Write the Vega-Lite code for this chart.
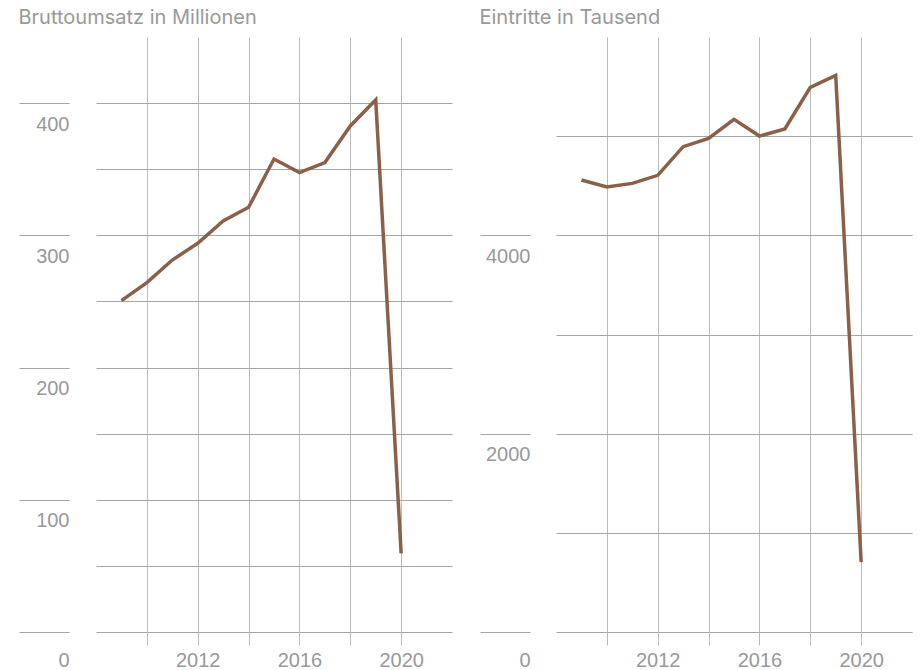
{
  "$schema": "https://vega.github.io/schema/vega-lite/v6.json",
  "background": "white",
  "padding": {"left": 18, "top": 8, "right": 5, "bottom": 5},
  "spacing": 27,
  "config": {
    "view": {"stroke": null},
    "font": "Liberation Sans",
    "title": {"anchor": "start", "frame": "bounds", "fontSize": 20, "fontWeight": "normal", "color": "#999999", "font": "Inter", "baseline": "alphabetic", "offset": 9},
    "axis": {"labelFont": "Liberation Sans", "labelFontSize": 20, "labelColor": "#999999", "labelFlush": false, "labelOverlap": false, "domain": false, "title": null}
  },
  "hconcat": [
    {
      "width": 356,
      "height": 595,
      "title": {"text": "Bruttoumsatz in Millionen"},
      "data": {"values": [
        {"jahr": 2009, "wert": 250.6},
        {"jahr": 2010, "wert": 264.2},
        {"jahr": 2011, "wert": 281.3},
        {"jahr": 2012, "wert": 294.0},
        {"jahr": 2013, "wert": 310.8},
        {"jahr": 2014, "wert": 321.2},
        {"jahr": 2015, "wert": 357.7},
        {"jahr": 2016, "wert": 347.4},
        {"jahr": 2017, "wert": 355.0},
        {"jahr": 2018, "wert": 382.7},
        {"jahr": 2019, "wert": 402.4},
        {"jahr": 2020, "wert": 59.5}
      ]},
      "mark": {"type": "line", "color": "#8b6048", "strokeWidth": 3.5},
      "encoding": {
        "x": {"field": "jahr", "type": "quantitative", "scale": {"domain": [2008, 2022], "nice": false, "zero": false},
          "axis": {"values": [2010, 2012, 2014, 2016, 2018, 2020], "format": "d", "labelExpr": "datum.value % 4 === 0 ? datum.label : ''", "grid": true, "gridColor": "#bbbbbb", "tickColor": "#bbbbbb", "tickSize": 13, "labelPadding": 21, "labelBaseline": "alphabetic"}},
        "y": {"field": "wert", "type": "quantitative", "scale": {"domain": [0, 450], "nice": false},
          "axis": {"values": [0, 50, 100, 150, 200, 250, 300, 350, 400], "labelExpr": "datum.value % 100 === 0 ? datum.label : ''", "grid": true, "gridColor": "#a6a6a6", "offset": 27, "tickSize": 50,
            "tickColor": {"condition": {"test": "datum.value % 100 === 0", "value": "#a6a6a6"}, "value": "transparent"},
            "labelPadding": -50, "labelAlign": "right", "labelBaseline": "alphabetic",
            "labelOffset": {"condition": {"test": "datum.value === 0", "value": 34}, "value": 27}}}
      }
    },
    {
      "width": 356,
      "height": 595,
      "title": {"text": "Eintritte in Tausend"},
      "data": {"values": [
        {"jahr": 2009, "wert": 4558},
        {"jahr": 2010, "wert": 4487},
        {"jahr": 2011, "wert": 4524},
        {"jahr": 2012, "wert": 4605},
        {"jahr": 2013, "wert": 4894},
        {"jahr": 2014, "wert": 4978},
        {"jahr": 2015, "wert": 5170},
        {"jahr": 2016, "wert": 5001},
        {"jahr": 2017, "wert": 5072},
        {"jahr": 2018, "wert": 5492},
        {"jahr": 2019, "wert": 5613},
        {"jahr": 2020, "wert": 705}
      ]},
      "mark": {"type": "line", "color": "#8b6048", "strokeWidth": 3.5},
      "encoding": {
        "x": {"field": "jahr", "type": "quantitative", "scale": {"domain": [2008, 2022], "nice": false, "zero": false},
          "axis": {"values": [2010, 2012, 2014, 2016, 2018, 2020], "format": "d", "labelExpr": "datum.value % 4 === 0 ? datum.label : ''", "grid": true, "gridColor": "#bbbbbb", "tickColor": "#bbbbbb", "tickSize": 13, "labelPadding": 21, "labelBaseline": "alphabetic"}},
        "y": {"field": "wert", "type": "quantitative", "scale": {"domain": [0, 6000], "nice": false},
          "axis": {"values": [0, 1000, 2000, 3000, 4000, 5000], "format": "d", "labelExpr": "datum.value % 2000 === 0 ? datum.label : ''", "grid": true, "gridColor": "#a6a6a6", "offset": 26, "tickSize": 50,
            "tickColor": {"condition": {"test": "datum.value % 2000 === 0", "value": "#a6a6a6"}, "value": "transparent"},
            "labelPadding": -50, "labelAlign": "right", "labelBaseline": "alphabetic",
            "labelOffset": {"condition": {"test": "datum.value === 0", "value": 34}, "value": 27}}}
      }
    }
  ]
}
